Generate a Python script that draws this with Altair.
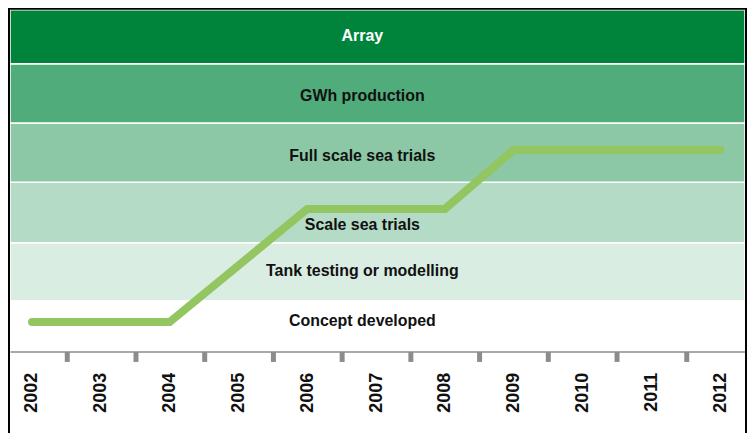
import altair as alt
import pandas as pd

# ---- data ----
stages = ["Concept developed", "Tank testing or modelling", "Scale sea trials",
          "Full scale sea trials", "GWh production", "Array"]
band_lo = [0.00, 0.84, 1.82, 2.84, 3.84, 4.84]
band_hi = [0.84, 1.82, 2.84, 3.84, 4.84, 5.75]
band_colors = ["#FFFFFF", "#DAEDE2", "#B3DBC6", "#8CC8A6", "#50AC7B", "#00843C"]
label_level = [0.50, 1.34, 2.12, 3.28, 4.30, 5.30]
label_colors = ["#111111", "#111111", "#111111", "#111111", "#111111", "#FFFFFF"]
label_year = 2006.8

years = [2002, 2003, 2004, 2005, 2006, 2007, 2008, 2009, 2010, 2011, 2012]
line_years = [2002, 2004, 2006, 2008, 2009, 2012]
line_level = [0.48, 0.48, 2.39, 2.39, 3.39, 3.39]

W, H = 738, 342
FONT = "Liberation Sans"

bands = pd.DataFrame({"stage": stages, "lo": band_lo, "hi": band_hi, "color": band_colors})
labels = pd.DataFrame({"stage": stages, "level": label_level, "tcolor": label_colors,
                       "year": [label_year] * len(stages)})
line = pd.DataFrame({"year": line_years, "level": line_level})
one = pd.DataFrame({"k": [0]})

xscale = alt.Scale(domain=[2001.68, 2012.36], nice=False, zero=False)
yscale = alt.Scale(domain=[0, 5.75], nice=False, zero=False)

half = W / (2012.36 - 2001.68) / 2.0

xaxis = alt.Axis(
    values=years, format="d", title=None, grid=False,
    domainColor="#8C8C8C", domainWidth=3.5,
    tickColor="#8C8C8C", tickWidth=5, tickSize=11, tickOffset=half,
    tickOpacity={"condition": {"test": "datum.value >= 2012", "value": 0}, "value": 1},
    labelOffset=-half, labelAngle=270, labelAlign="right", labelBaseline="middle",
    labelPadding=11, labelFont=FONT, labelFontWeight="bold", labelFontSize=18,
    labelColor="#111111", labelBound=False, labelOverlap=False, labelFlush=False,
)

band_layer = alt.Chart(bands).mark_rect(stroke="white", strokeWidth=1.5).encode(
    x=alt.value(0), x2=alt.value(W),
    y=alt.Y("lo:Q", scale=yscale, axis=None), y2="hi:Q",
    color=alt.Color("color:N", scale=None, legend=None),
)

line_layer = alt.Chart(line).mark_line(
    color="#93C560", strokeWidth=8, strokeCap="round", strokeJoin="miter"
).encode(
    x=alt.X("year:Q", scale=xscale, axis=xaxis),
    y=alt.Y("level:Q", scale=yscale, axis=None),
)

text_layer = alt.Chart(labels).mark_text(
    font=FONT, fontWeight="bold", fontSize=16, align="center", baseline="middle"
).encode(
    x=alt.X("year:Q", scale=xscale, axis=xaxis),
    y=alt.Y("level:Q", scale=yscale, axis=None),
    text="stage:N",
    color=alt.Color("tcolor:N", scale=None, legend=None),
)

left_border = alt.Chart(one).mark_rule(color="black", strokeWidth=2).encode(
    x=alt.value(-1), y=alt.value(-2), y2=alt.value(H + 90))
top_border = alt.Chart(one).mark_rule(color="black", strokeWidth=2).encode(
    x=alt.value(-2), x2=alt.value(W + 2), y=alt.value(-1))
right_border = alt.Chart(one).mark_rule(color="black", strokeWidth=2).encode(
    x=alt.value(W + 1), y=alt.value(-2), y2=alt.value(H + 90))

chart = alt.layer(
    band_layer, line_layer, text_layer, left_border, top_border, right_border
).properties(
    width=W, height=H,
    padding={"left": 2, "top": 1, "right": 2, "bottom": 82},
    autosize=alt.AutoSizeParams(type="none"),
    background="white",
).configure_view(stroke=None)

chart.save("out.html", embed_options={"renderer": "svg", "actions": False})
